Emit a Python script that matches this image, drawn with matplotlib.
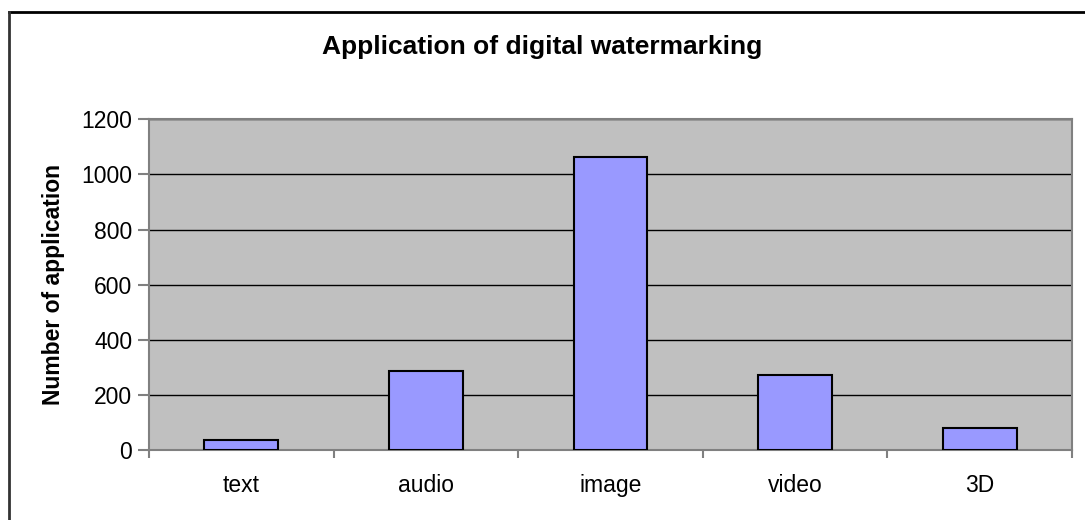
import matplotlib.pyplot as plt
from matplotlib.lines import Line2D

categories = ['text', 'audio', 'image', 'video', '3D']
counts = [35, 286, 1064, 272, 80]
y_ticks = [0, 200, 400, 600, 800, 1000, 1200]

plt.rcParams['font.family'] = 'Liberation Sans'

fig = plt.figure(figsize=(10.85, 5.2), dpi=100)
ax = fig.add_axes([0.1373, 0.1346, 0.988 - 0.1373, 0.7706 - 0.1346])

x = range(len(categories))
ax.bar(x, counts, width=0.4, color='#9999FF', edgecolor='black', linewidth=1.5, zorder=3)

ax.set_facecolor('#C0C0C0')
ax.set_xlim(-0.5, len(categories) - 0.5)
ax.set_ylim(0, 1200)
ax.set_yticks(y_ticks)
ax.yaxis.grid(True, color='black', linewidth=1, zorder=1)
ax.set_axisbelow(True)

# category labels centred, ticks at the category boundaries
ax.set_xticks([i - 0.5 for i in range(len(categories) + 1)])
ax.set_xticklabels([])
ax.set_xticks(list(x), minor=True)
ax.set_xticklabels(categories, minor=True, fontsize=16.5)
ax.tick_params(axis='x', which='minor', length=0, pad=17)
ax.tick_params(axis='x', which='major', length=6, color='#808080', width=1.5)
ax.tick_params(axis='y', length=8, color='#808080', width=1.5, labelsize=16.5, pad=4)

for s in ax.spines.values():
    s.set_color('#808080')
    s.set_linewidth(1.5)

ax.set_ylabel('Number of application', fontsize=16.5, fontweight='bold', labelpad=12)
fig.text(0.5, 1 - 47 / 520, 'Application of digital watermarking',
         ha='center', va='center', fontsize=19, fontweight='bold')

# chart area frame (top and left edges only visible)
fig.add_artist(Line2D([8.5 / 1085, 1], [1 - 11.5 / 520, 1 - 11.5 / 520], color='black', linewidth=2))
fig.add_artist(Line2D([8.5 / 1085, 8.5 / 1085], [0, 1 - 11.5 / 520], color='#333333', linewidth=2))

fig.savefig('out.png', dpi=100)
